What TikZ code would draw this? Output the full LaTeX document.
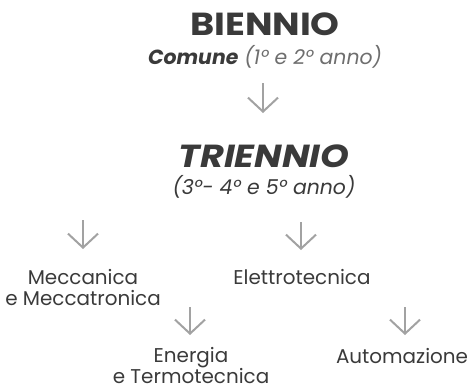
\documentclass[tikz,border=0pt]{standalone}
\usepackage{fontspec}
\setmainfont{Poppins}
\newfontfamily\widefont{Poppins}[FakeStretch=1.15]
\usetikzlibrary{arrows.meta}
\definecolor{txt}{HTML}{3A3A3A}
\definecolor{lite}{HTML}{6E6E6E}
\definecolor{arr}{HTML}{A2A2A2}
\tikzset{
  lbl/.style={inner sep=0pt, anchor=base, text=txt, align=center,
    font=\fontsize{20}{21}\selectfont},
  head/.style={inner sep=0pt, anchor=base, text=txt, font=\widefont\fontsize{32}{34}\selectfont\bfseries},
  sub/.style={inner sep=0pt, anchor=base, text=txt, font=\fontsize{20.5}{22}\selectfont\itshape},
  flow/.style={draw=arr, line width=2bp, -{Straight Barb[length=14bp,width=30bp,line join=miter]}}
}
\begin{document}
\begin{tikzpicture}[x=1bp,y=-1bp]
\useasboundingbox (0,0) rectangle (475,389);
\node[head] (bien) at (265,35) {BIENNIO};
\node[sub] (bsub) at (265,64) {\textbf{Comune} {\color{lite}(1° e 2° anno)}};
\node[head,font=\widefont\fontsize{32}{34}\selectfont\bfseries\itshape] (tri) at (264,167) {TRIENNIO};
\node[sub] (tsub) at (264,194) {(3°- 4° e 5° anno)};
\node[lbl] (mec) at (83,305) {Meccanica\\e Meccatronica};
\node[lbl] (ele) at (302,284) {Elettrotecnica};
\node[lbl, text depth=0pt] (ene) at (191,383) {Energia\\e Termotecnica};
\node[lbl] (aut) at (402,363) {Automazione};
\coordinate (a1s) at (263,83);  \coordinate (a1e) at (263,113);
\coordinate (a2s) at (83,220);  \coordinate (a2e) at (83,249);
\coordinate (a3s) at (301,222); \coordinate (a3e) at (301,250);
\coordinate (a4s) at (190,307); \coordinate (a4e) at (190,335);
\coordinate (a5s) at (405,307); \coordinate (a5e) at (405,335);
\draw[flow] (a1s) -- (a1e);
\draw[flow] (a2s) -- (a2e);
\draw[flow] (a3s) -- (a3e);
\draw[flow] (a4s) -- (a4e);
\draw[flow] (a5s) -- (a5e);
\end{tikzpicture}
\end{document}
